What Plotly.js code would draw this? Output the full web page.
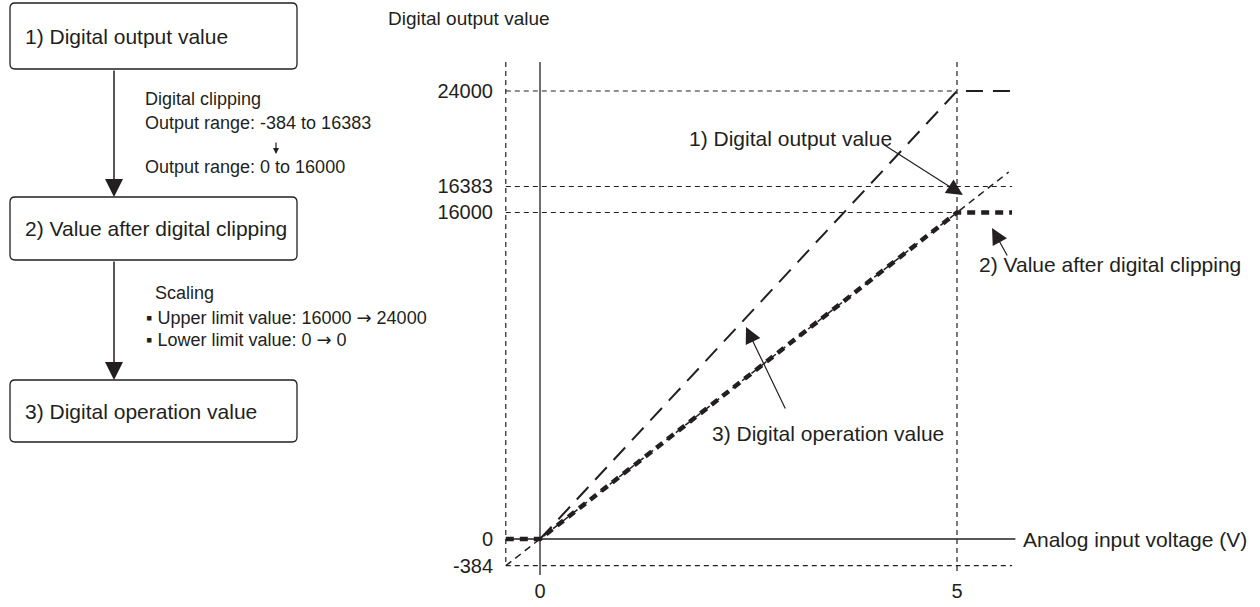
<!DOCTYPE html>
<html>
<head>
<meta charset="utf-8">
<script src="https://cdn.plot.ly/plotly-3.0.1.min.js"></script>
<style>
  body { margin: 0; background: #fff; }
  #chart { width: 1260px; height: 607px; }
</style>
</head>
<body>
<div id="chart"></div>
<script>
// y levels are drawn at diagram positions (the original figure is not to scale)
const levelLabels = ['24000', '16383', '16000', '0', '-384'];
const levelPos = [24000, 18884, 17491, 0, -1430];
const voltTicks = [0, 5];
const voltLabels = ['0', '5'];

// 1) Digital output value
const outX = [-0.41, 5.62];
const outY = [-1430, 19660];
// 2) Value after digital clipping
const clipX = [-0.41, 0, 5, 5.66];
const clipY = [0, 0, 17491, 17491];
// 3) Digital operation value
const opX = [0, 5, 5.66];
const opY = [0, 24000, 24000];

const ink = '#231f20';
const font = 'Liberation Sans, Arial, Helvetica, sans-serif';
const arrowGlyph = '<span style="font-family:DejaVu Sans">→</span>';

// pixel -> paper helpers for the flowchart part (plot area: x 500..1260, y 30..575)
function px(p) { return (p - 500) / 760; }
function py(p) { return (575 - p) / 545; }

function boxPath(x0, y0, x1, y1, r) {
    const P = (x, y) => px(x) + ',' + py(y);
    return 'M' + P(x0 + r, y0) + ' L' + P(x1 - r, y0) + ' Q' + P(x1, y0) + ' ' + P(x1, y0 + r) +
        ' L' + P(x1, y1 - r) + ' Q' + P(x1, y1) + ' ' + P(x1 - r, y1) +
        ' L' + P(x0 + r, y1) + ' Q' + P(x0, y1) + ' ' + P(x0, y1 - r) +
        ' L' + P(x0, y0 + r) + ' Q' + P(x0, y0) + ' ' + P(x0 + r, y0) + ' Z';
}

function label(text, left, cy, size) {
    return {
        text: text, xref: 'paper', yref: 'paper', x: px(left), y: py(cy),
        xanchor: 'left', yanchor: 'middle', showarrow: false,
        font: { family: font, size: size, color: ink }
    };
}

function paperArrow(tipX, tipY, tailX, tailY, size, width) {
    return {
        text: '', xref: 'paper', yref: 'paper', x: px(tipX), y: py(tipY),
        ax: tailX - tipX, ay: tailY - tipY, showarrow: true,
        arrowhead: 2, arrowsize: size, arrowwidth: width, arrowcolor: ink, standoff: 0
    };
}

function dataArrow(x, y, ax, ay) {
    return {
        text: '', xref: 'x', yref: 'y', x: x, y: y, ax: ax, ay: ay, showarrow: true,
        arrowhead: 2, arrowsize: 2.7, arrowwidth: 1.2, arrowcolor: ink, standoff: 0
    };
}

const traces = [
    { x: outX, y: outY, mode: 'lines', line: { color: ink, width: 1.5, dash: '7px,5px' } },
    { x: clipX, y: clipY, mode: 'lines', line: { color: ink, width: 4.5, dash: '8px,6px' } },
    { x: opX, y: opY, mode: 'lines', line: { color: ink, width: 2, dash: '17px,10px' } }
];

const guide = { color: ink, width: 1.2, dash: '5px,4px' };
const shapes = [];
// horizontal guides at every level except 0
const guideEnds = [5, 5.66, 5, null, 5.66];
levelPos.forEach((v, i) => {
    if (guideEnds[i] === null) return;
    shapes.push({ type: 'line', xref: 'x', yref: 'y', x0: -0.41, x1: guideEnds[i], y0: v, y1: v, line: guide });
});
// vertical guides
shapes.push({ type: 'line', xref: 'x', yref: 'y', x0: -0.41, x1: -0.41, y0: 25553, y1: levelPos[4], line: guide });
shapes.push({ type: 'line', xref: 'x', yref: 'y', x0: voltTicks[1], x1: voltTicks[1], y0: 25553, y1: -1928, line: guide });
// solid axes
shapes.push({ type: 'line', xref: 'x', yref: 'y', x0: 0, x1: 0, y0: 25553, y1: -1928, line: { color: ink, width: 1.3 } });
shapes.push({ type: 'line', xref: 'x', yref: 'y', x0: -0.41, x1: 5.7, y0: 0, y1: 0, line: { color: ink, width: 1.3 } });

// flowchart boxes
[[3, 69], [197, 260], [380, 442]].forEach(b => {
    shapes.push({ type: 'path', xref: 'paper', yref: 'paper', path: boxPath(10, b[0], 297, b[1], 5),
        line: { color: ink, width: 1.3 }, fillcolor: 'rgba(0,0,0,0)' });
});

const annotations = [
    label('1) Digital output value', 23, 36, 21),
    label('2) Value after digital clipping', 23, 228, 21),
    label('3) Digital operation value', 23, 412, 21),
    label('Digital clipping', 143, 99, 18),
    label('Output range: -384 to 16383', 143, 123, 18),
    label('Output range: 0 to 16000', 143, 167, 18),
    label('Scaling', 153, 293, 18),
    label('▪ Upper limit value: 16000 ' + arrowGlyph + ' 24000', 144, 317, 18),
    label('▪ Lower limit value: 0 ' + arrowGlyph + ' 0', 144, 339, 18),
    paperArrow(114, 197, 114, 69, 2.4, 1.5),
    paperArrow(114, 380, 114, 260, 2.4, 1.5),
    paperArrow(276, 154, 276, 141, 1, 1.2),

    label('Digital output value', 386, 18, 19),
    label('Analog input voltage (V)', 1021, 539, 21),
    label('1) Digital output value', 687, 139, 21),
    label('2) Value after digital clipping', 977, 264, 21),
    label('3) Digital operation value', 710, 433, 21),
    dataArrow(5.07, 18428, -80, -51),
    dataArrow(5.42, 16660, 16, 29),
    dataArrow(2.47, 11357, 40, 83)
];

const layout = {
    width: 1260, height: 607,
    margin: { l: 500, r: 0, t: 30, b: 32 },
    paper_bgcolor: '#fff', plot_bgcolor: '#fff',
    showlegend: false,
    font: { family: font, color: ink },
    xaxis: {
        range: [-0.4796, 8.633], showgrid: false, zeroline: false, showline: false,
        tickvals: voltTicks, ticktext: voltLabels, ticks: '',
        tickfont: { family: font, size: 20, color: ink }, ticklabelstandoff: 2
    },
    yaxis: {
        range: [-1928, 27267], showgrid: false, zeroline: false, showline: false,
        tickvals: levelPos, ticktext: levelLabels, ticks: '',
        tickfont: { family: font, size: 20, color: ink }, ticklabelstandoff: 6
    },
    shapes: shapes,
    annotations: annotations
};

Plotly.newPlot('chart', traces, layout, { staticPlot: true, displayModeBar: false });
</script>
</body>
</html>
